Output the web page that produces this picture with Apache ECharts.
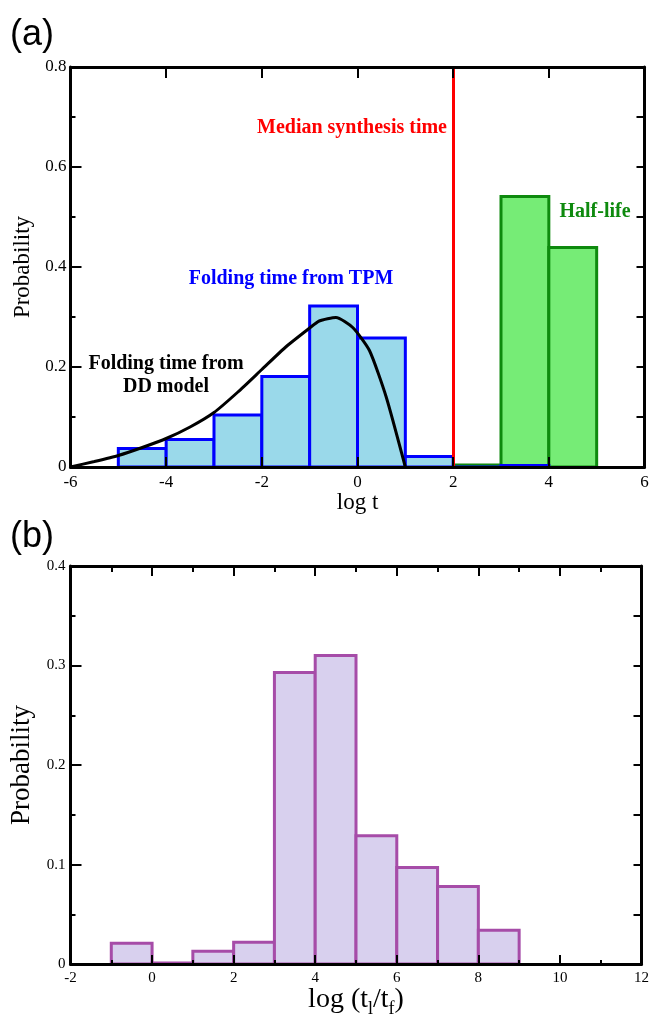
<!DOCTYPE html>
<html>
<head>
<meta charset="utf-8">
<script src="https://cdn.jsdelivr.net/npm/echarts@6/dist/echarts.min.js"></script>
<style>
  html, body { margin: 0; padding: 0; background: #fff; }
  #chart { width: 652px; height: 1019px; }
</style>
</head>
<body>
<div id="chart"></div>
<script>
// panel (a): distributions over log t, bins of width 1 given by their left edge
const binWidth = 1
const tpmBinStarts = [-5, -4, -3, -2, -1, 0, 1, 2, 3]
const tpmProb = [0.037, 0.055, 0.104, 0.181, 0.322, 0.258, 0.021, 0, 0.003]
const halfLifeBinStarts = [2, 3, 4]
const halfLifeProb = [0.004, 0.541, 0.439]
// folding time from DD model (curve)
const ddLogT = [-6, -5.5, -5, -4.5, -4, -3.5, -3, -2.5, -2, -1.5, -1, -0.8, -0.45, -0.1, 0.25, 0.6, 1]
const ddProb = [0, 0.011, 0.023, 0.039, 0.057, 0.08, 0.109, 0.15, 0.195, 0.24, 0.278, 0.292, 0.299, 0.279, 0.233, 0.14, 0]
const medianSynthesisLogT = 2

// panel (b): distribution of log(tl/tf)
const ratioBinStarts = [-1, 0, 1, 2, 3, 4, 5, 6, 7, 8]
const ratioProb = [0.021, 0.001, 0.013, 0.022, 0.293, 0.310, 0.129, 0.097, 0.078, 0.034]

const SERIF = '"Liberation Serif", "Times New Roman", serif'
const SANS = '"Liberation Sans", Arial, sans-serif'

function toBins(starts, probs) {
  return starts.map((s, i) => [s, s + binWidth, probs[i]])
}

// draw one histogram bin as a rect through the axis scales
function histRender(fill, stroke) {
  return function (params, api) {
    const p0 = api.coord([api.value(0), api.value(2)])
    const p1 = api.coord([api.value(1), 0])
    return {
      type: 'rect',
      shape: { x: p0[0], y: p0[1], width: p1[0] - p0[0], height: p1[1] - p0[1] },
      style: { fill: fill, stroke: stroke, lineWidth: 3 }
    }
  }
}

function frameAxis(gridIndex, position, opts) {
  const axis = {
    gridIndex: gridIndex,
    type: 'value',
    position: position,
    z: 10,
    splitLine: { show: false },
    axisLine: { show: true, onZero: false, lineStyle: { color: '#000', width: 3 } },
    axisTick: { show: true, inside: true, length: opts.tickLen, lineStyle: { color: '#000', width: 2 } },
    minorTick: opts.minor
      ? { show: true, splitNumber: 2, length: opts.minorLen, lineStyle: { color: '#000', width: 2 } }
      : { show: false },
    axisLabel: opts.labelSize
      ? { show: true, fontFamily: SERIF, fontSize: opts.labelSize, color: '#000', margin: opts.margin || 6 }
      : { show: false },
    min: opts.min,
    max: opts.max,
    interval: opts.interval
  }
  if (opts.name) {
    axis.name = opts.name
    axis.nameLocation = 'middle'
    axis.nameGap = opts.nameGap
    axis.nameTextStyle = opts.nameStyle
  }
  return axis
}

const chart = echarts.init(document.getElementById('chart'))

const option = {
  backgroundColor: '#fff',
  animation: false,
  grid: [
    { left: 70.5, width: 574, top: 67, height: 400 },
    { left: 70.5, width: 574, top: 566, height: 400 }
  ],
  xAxis: [
    frameAxis(0, 'bottom', {
      min: -6, max: 6, interval: 2, tickLen: 10, labelSize: 17, margin: 7,
      name: 'log t', nameGap: 21,
      nameStyle: { fontFamily: SERIF, fontSize: 23, color: '#000' }
    }),
    frameAxis(0, 'top', { min: -6, max: 6, interval: 2, tickLen: 11 }),
    frameAxis(1, 'bottom', {
      min: -2, max: 12, interval: 2, tickLen: 9, minor: true, minorLen: 4, labelSize: 15, margin: 6,
      name: '{n|log (t}{s|l}{n|/t}{s|f}{n|)}', nameGap: 17,
      nameStyle: {
        rich: {
          n: { fontFamily: SERIF, fontSize: 28, color: '#000', lineHeight: 32, verticalAlign: 'top' },
          s: { fontFamily: SERIF, fontSize: 18, color: '#000', lineHeight: 32, verticalAlign: 'bottom' }
        }
      }
    }),
    frameAxis(1, 'top', { min: -2, max: 12, interval: 2, tickLen: 10, minor: true, minorLen: 6 })
  ],
  yAxis: [
    frameAxis(0, 'left', {
      min: 0, max: 0.8, interval: 0.2, tickLen: 11, minor: true, minorLen: 5, labelSize: 17, margin: 4,
      name: 'Probability', nameGap: 36,
      nameStyle: { fontFamily: SERIF, fontSize: 23, color: '#000' }
    }),
    frameAxis(0, 'right', { min: 0, max: 0.8, interval: 0.2, tickLen: 8, minor: true, minorLen: 8 }),
    frameAxis(1, 'left', {
      min: 0, max: 0.4, interval: 0.1, tickLen: 11, minor: true, minorLen: 5, labelSize: 15, margin: 5,
      name: 'Probability', nameGap: 31,
      nameStyle: { fontFamily: SERIF, fontSize: 27, color: '#000' }
    }),
    frameAxis(1, 'right', { min: 0, max: 0.4, interval: 0.1, tickLen: 8, minor: true, minorLen: 8 })
  ],
  series: [
    {
      name: 'Half-life',
      type: 'custom',
      xAxisIndex: 0,
      yAxisIndex: 0,
      encode: { x: [0, 1], y: 2 },
      renderItem: histRender('#76ec76', '#0e8a0e'),
      data: toBins(halfLifeBinStarts, halfLifeProb),
      z: 2
    },
    {
      name: 'Folding time from TPM',
      type: 'custom',
      xAxisIndex: 0,
      yAxisIndex: 0,
      encode: { x: [0, 1], y: 2 },
      renderItem: histRender('#9ad9ea', '#0000ff'),
      data: toBins(tpmBinStarts, tpmProb),
      z: 3
    },
    {
      name: 'Folding time from DD model',
      type: 'line',
      xAxisIndex: 0,
      yAxisIndex: 0,
      showSymbol: false,
      smooth: 0.2,
      lineStyle: { color: '#000', width: 3 },
      data: ddLogT.map((x, i) => [x, ddProb[i]]),
      z: 4
    },
    {
      name: 'Median synthesis time',
      type: 'line',
      xAxisIndex: 0,
      yAxisIndex: 0,
      data: [],
      z: 5,
      markLine: {
        silent: true,
        symbol: 'none',
        label: { show: false },
        lineStyle: { color: '#ff0000', width: 3, type: 'solid' },
        data: [{ xAxis: medianSynthesisLogT }]
      }
    },
    {
      name: 'log(tl/tf)',
      type: 'custom',
      xAxisIndex: 2,
      yAxisIndex: 2,
      encode: { x: [0, 1], y: 2 },
      renderItem: histRender('#d8d0ee', '#a64ca8'),
      data: toBins(ratioBinStarts, ratioProb),
      z: 2
    }
  ],
  graphic: [
    { type: 'text', x: 10, y: 35, style: { text: '(a)', fontFamily: SANS, fontSize: 36, fill: '#000', verticalAlign: 'middle' } },
    { type: 'text', x: 10, y: 537, style: { text: '(b)', fontFamily: SANS, fontSize: 36, fill: '#000', verticalAlign: 'middle' } },
    { type: 'text', x: 447, y: 128, z: 20, style: { text: 'Median synthesis time', fontFamily: SERIF, fontWeight: 'bold', fontSize: 20, fill: '#ff0000', align: 'right', verticalAlign: 'middle' } },
    { type: 'text', x: 595, y: 212, z: 20, style: { text: 'Half-life', fontFamily: SERIF, fontWeight: 'bold', fontSize: 20, fill: '#0e8a0e', align: 'center', verticalAlign: 'middle' } },
    { type: 'text', x: 291, y: 279, z: 20, style: { text: 'Folding time from TPM', fontFamily: SERIF, fontWeight: 'bold', fontSize: 20, fill: '#0000ff', align: 'center', verticalAlign: 'middle' } },
    { type: 'text', x: 166, y: 375, z: 20, style: { text: 'Folding time from\nDD model', fontFamily: SERIF, fontWeight: 'bold', fontSize: 20, lineHeight: 23, fill: '#000', align: 'center', verticalAlign: 'middle' } }
  ]
}

chart.setOption(option)
window.addEventListener('resize', () => chart.resize())
</script>
</body>
</html>
